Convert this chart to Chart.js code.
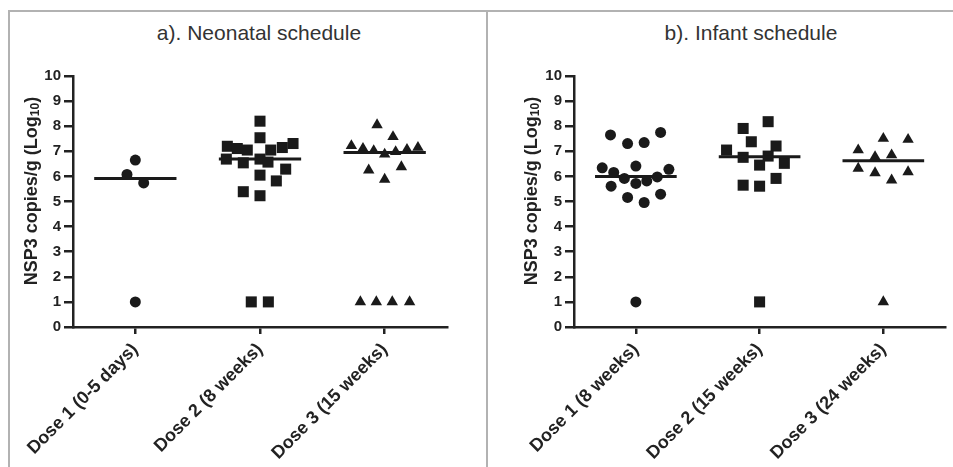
<!DOCTYPE html>
<html>
<head>
<meta charset="utf-8">
<title>NSP3 shedding by dose</title>
<script src="https://cdn.jsdelivr.net/npm/chart.js@4.4.1/dist/chart.umd.min.js"></script>
<style>
	html, body { margin: 0; padding: 0; background: #fff; }
	#wrap { position: relative; width: 953px; height: 467px; overflow: hidden; background: #fff; }
	.rule { position: absolute; background: #b2b2b2; }
	canvas { position: absolute; }
	.panel-title {
		position: absolute;
		top: 21px;
		width: 300px;
		margin-left: -150px;
		text-align: center;
		font: 21px/24px "Liberation Sans", Arial, Helvetica, sans-serif;
		color: #333;
		white-space: nowrap;
	}
</style>
</head>
<body>
<div id="wrap">
	<div class="rule" style="left:8px;top:10px;width:945px;height:2px"></div>
	<div class="rule" style="left:8px;top:10px;width:2px;height:457px"></div>
	<div class="rule" style="left:486px;top:10px;width:2px;height:457px"></div>
	<div class="panel-title" style="left:259px">a). Neonatal schedule</div>
	<div class="panel-title" style="left:751px">b). Infant schedule</div>
	<canvas id="neonatal-chart" width="476" height="455" style="left:10px;top:12px"></canvas>
	<canvas id="infant-chart" width="464" height="455" style="left:489px;top:12px"></canvas>
</div>
<script>
// Categories and tick labels
var NEO_LABELS = [ 'Dose 1 (0-5 days)', 'Dose 2 (8 weeks)', 'Dose 3 (15 weeks)' ];
var INF_LABELS = [ 'Dose 1 (8 weeks)', 'Dose 2 (15 weeks)', 'Dose 3 (24 weeks)' ];
var Y_TICKS    = [ 0, 1, 2, 3, 4, 5, 6, 7, 8, 9, 10 ];

// a) Neonatal schedule — NSP3 copies/g (log10), with horizontal jitter per point
var neoDose1       = [ 6.65, 6.08, 5.74, 1.0 ];
var neoDose1Jitter = [ 0, -0.067, 0.067, 0 ];
var neoDose2       = [ 8.2, 7.54, 7.2, 7.11, 7.05, 7.05, 7.15, 7.31, 6.69, 6.54, 6.69, 6.57, 6.29, 6.05, 5.82, 5.39, 5.23, 1.0, 1.0 ];
var neoDose2Jitter = [ 0, 0, -0.262, -0.182, -0.102, 0.086, 0.179, 0.265, -0.27, -0.134, 0, 0.064, 0.206, 0, 0.131, -0.134, 0, -0.07, 0.067 ];
var neoDose3       = [ 8.05, 7.58, 7.22, 7.11, 7.02, 6.88, 6.98, 7.07, 7.15, 6.25, 6.38, 5.88, 1.0, 1.0, 1.0, 1.0 ];
var neoDose3Jitter = [ -0.061, 0.067, -0.267, -0.174, -0.088, 0, 0.088, 0.179, 0.267, -0.128, 0.134, 0, -0.195, -0.067, 0.061, 0.2 ];
var neoMedians     = [ 5.92, 6.69, 6.95 ];

// b) Infant schedule
var infDose1       = [ 7.65, 7.31, 7.35, 7.75, 6.34, 6.16, 6.41, 6.28, 5.61, 5.92, 5.72, 5.82, 5.98, 5.16, 4.96, 5.29, 1.0 ];
var infDose1Jitter = [ -0.205, -0.067, 0.067, 0.2, -0.272, -0.179, 0, 0.267, -0.2, -0.093, 0, 0.088, 0.173, -0.067, 0.067, 0.2, 0 ];
var infDose2       = [ 8.18, 7.91, 7.38, 7.05, 7.21, 6.76, 6.81, 6.45, 6.52, 5.92, 5.65, 5.61, 1.0 ];
var infDose2Jitter = [ 0.069, -0.133, -0.067, -0.267, 0.133, -0.133, 0.069, 0, 0.2, 0.133, -0.133, 0, 0 ];
var infDose3       = [ 7.51, 7.47, 7.05, 6.78, 6.85, 6.32, 6.14, 6.18, 5.85, 1.0 ];
var infDose3Jitter = [ 0, 0.2, -0.203, -0.067, 0.067, -0.203, -0.067, 0.2, 0.067, 0 ];
var infMedians     = [ 6.0, 6.78, 6.62 ];

( function () {
	'use strict';

	var INK       = '#1a1a1a';
	var AXIS      = '#222';
	var FONT      = '"Liberation Sans", Arial, Helvetica, sans-serif';
	var HALF_LINE = 0.33;

	// Rotated y-axis title with a real subscript ("Log" + small "10").
	var yTitlePlugin = {
		id: 'yTitle',
		afterDraw: function ( chart, args, o ) {
			var ctx  = chart.ctx;
			var main = 'bold 18px ' + FONT;
			var sub  = 'bold 12px ' + FONT;
			ctx.save();
			ctx.translate( o.x, o.y );
			ctx.rotate( -Math.PI / 2 );
			ctx.fillStyle    = AXIS;
			ctx.textAlign    = 'left';
			ctx.textBaseline = 'middle';
			ctx.font = main;
			var w1 = ctx.measureText( o.text ).width;
			var w3 = ctx.measureText( ')' ).width;
			ctx.font = sub;
			var w2 = ctx.measureText( o.sub ).width;
			var start = -( w1 + w2 + w3 ) / 2;
			ctx.font = main;
			ctx.fillText( o.text, start, 0 );
			ctx.font = sub;
			ctx.fillText( o.sub, start + w1, 4 );
			ctx.font = main;
			ctx.fillText( ')', start + w1 + w2, 0 );
			ctx.restore();
		},
	};

	function points( index, values, jitter ) {
		var out = [];
		for ( var i = 0; i < values.length; i++ ) {
			out.push( { x: index + jitter[ i ], y: values[ i ] } );
		}
		return out;
	}

	function medianSegments( medians ) {
		var out = [];
		for ( var i = 0; i < medians.length; i++ ) {
			out.push( { x: i - HALF_LINE, y: medians[ i ] } );
			out.push( { x: i + HALF_LINE, y: medians[ i ] } );
			out.push( { x: i + 0.5, y: null } );
		}
		return out;
	}

	function dotSet( data, style, radius ) {
		return {
			type:             'scatter',
			data:             data,
			pointStyle:       style,
			pointRadius:      radius,
			pointHoverRadius: radius,
			pointBorderWidth: 0,
			backgroundColor:  INK,
			borderColor:      INK,
			clip:             false,
		};
	}

	function render( canvasId, opts ) {
		var canvas = document.getElementById( canvasId );
		var labels = opts.labels;

		new Chart( canvas, {
			type: 'scatter',
			plugins: [ yTitlePlugin ],
			data: {
				datasets: [
					{
						type:        'line',
						data:        medianSegments( opts.medians ),
						borderColor: INK,
						borderWidth: 3,
						pointRadius: 0,
						spanGaps:    false,
						fill:        false,
					},
					dotSet( points( 0, opts.d1, opts.j1 ), 'circle', 5.5 ),
					dotSet( points( 1, opts.d2, opts.j2 ), 'rect', 7.8 ),
					dotSet( points( 2, opts.d3, opts.j3 ), 'triangle', 6.6 ),
				],
			},
			options: {
				responsive: false,
				animation:  false,
				layout:     { padding: { left: opts.padLeft, right: opts.padRight, top: 64, bottom: 0 } },
				plugins:    {
					legend:  { display: false },
					tooltip: { enabled: false },
					title:   { display: false },
					yTitle:  { text: 'NSP3 copies/g (Log', sub: '10', x: opts.titleX, y: 179 },
				},
				scales: {
					x: {
						type: 'linear',
						min:  -0.5,
						max:  2.5,
						afterBuildTicks: function ( scale ) {
							scale.ticks = labels.map( function ( l, i ) { return { value: i }; } );
						},
						afterFit: function ( scale ) { scale.height = 140; },
						grid:   { display: true, drawOnChartArea: false, drawTicks: true, tickLength: 7, color: AXIS, lineWidth: 2.5 },
						border: { display: true, color: AXIS, width: 2.5 },
						ticks:  {
							autoSkip:    false,
							minRotation: 45,
							maxRotation: 45,
							padding:     5,
							color:       AXIS,
							font:        { family: FONT, size: 18, weight: 'bold' },
							callback:    function ( v ) { return labels[ v ]; },
						},
					},
					y: {
						min: Y_TICKS[ 0 ],
						max: Y_TICKS[ Y_TICKS.length - 1 ],
						afterBuildTicks: function ( scale ) {
							scale.ticks = Y_TICKS.map( function ( v ) { return { value: v }; } );
						},
						afterFit: function ( scale ) { scale.width = 63; },
						grid:   { display: true, drawOnChartArea: false, drawTicks: true, tickLength: 9, color: AXIS, lineWidth: 2.5 },
						border: { display: true, color: AXIS, width: 2.5 },
						ticks:  {
							padding: 3,
							color:   AXIS,
							font:    { family: FONT, size: 15, weight: 'bold' },
						},
						title: { display: false },
					},
				},
			},
		} );
	}

	render( 'neonatal-chart', {
		labels:   NEO_LABELS,
		d1: neoDose1, j1: neoDose1Jitter,
		d2: neoDose2, j2: neoDose2Jitter,
		d3: neoDose3, j3: neoDose3Jitter,
		medians:  neoMedians,
		padLeft:  0,
		padRight: 39,
		titleX:   22,
	} );

	render( 'infant-chart', {
		labels:   INF_LABELS,
		d1: infDose1, j1: infDose1Jitter,
		d2: infDose2, j2: infDose2Jitter,
		d3: infDose3, j3: infDose3Jitter,
		medians:  infMedians,
		padLeft:  22,
		padRight: 4,
		titleX:   43,
	} );
} )();
</script>
</body>
</html>
